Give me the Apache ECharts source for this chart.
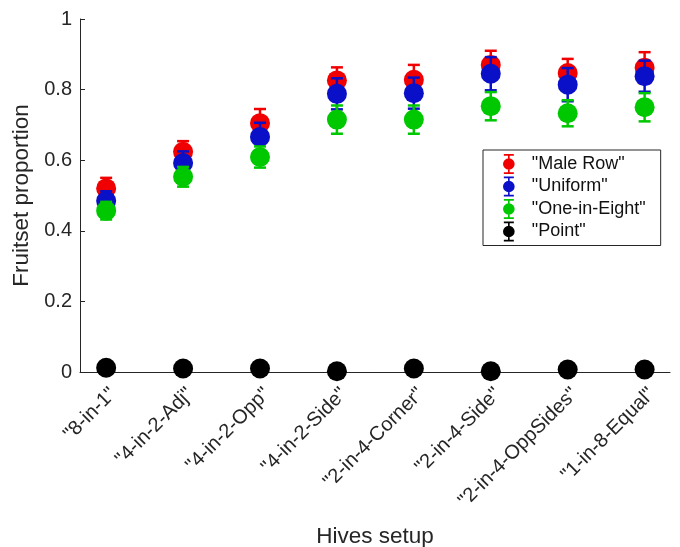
<!DOCTYPE html>
<html>
<head>
<meta charset="utf-8">
<script src="https://cdn.jsdelivr.net/npm/echarts@6/dist/echarts.min.js"></script>
<style>
  html, body { margin: 0; padding: 0; background: #fff; }
  #chart { width: 680px; height: 547px; }
</style>
</head>
<body>
<div id="chart"></div>
<script>
// ---- data ----
const categories = ['"8-in-1"', '"4-in-2-Adj"', '"4-in-2-Opp"', '"4-in-2-Side"', '"2-in-4-Corner"', '"2-in-4-Side"', '"2-in-4-OppSides"', '"1-in-8-Equal"'];
const seriesNames = ['"Male Row"', '"Uniform"', '"One-in-Eight"', '"Point"'];
const maleRow = [0.520, 0.624, 0.705, 0.826, 0.828, 0.870, 0.847, 0.862];
const maleRowErr = [0.030, 0.030, 0.040, 0.037, 0.042, 0.040, 0.040, 0.044];
const uniform = [0.485, 0.592, 0.666, 0.788, 0.790, 0.845, 0.814, 0.838];
const uniformErr = [0.027, 0.033, 0.040, 0.044, 0.044, 0.047, 0.047, 0.044];
const oneInEight = [0.457, 0.553, 0.609, 0.715, 0.715, 0.753, 0.733, 0.750];
const oneInEightErr = [0.025, 0.028, 0.030, 0.040, 0.040, 0.040, 0.037, 0.040];
const point = [0.012, 0.010, 0.010, 0.002, 0.010, 0.002, 0.007, 0.007];
const pointErr = [0, 0, 0, 0, 0, 0, 0, 0];
const yTicks = [0, 0.2, 0.4, 0.6, 0.8, 1];

const colors = ['#f00000', '#0a0fc8', '#00c800', '#000000'];
const FONT = 'Liberation Sans, Arial, Helvetica, sans-serif';

function toData(vals, errs) {
  return vals.map((v, i) => [i + 1, v, errs[i]]);
}

function renderItem(params, api) {
  const x = api.value(0), y = api.value(1), e = api.value(2);
  const c = api.coord([x, y]);
  const top = api.coord([x, y + e]);
  const bot = api.coord([x, y - e]);
  const color = api.visual('color');
  const children = [];
  if (e > 0) {
    const ls = { stroke: color, lineWidth: 2.5 };
    children.push({ type: 'line', shape: { x1: c[0], y1: top[1], x2: c[0], y2: bot[1] }, style: ls });
    children.push({ type: 'line', shape: { x1: c[0] - 6, y1: top[1], x2: c[0] + 6, y2: top[1] }, style: ls });
    children.push({ type: 'line', shape: { x1: c[0] - 6, y1: bot[1], x2: c[0] + 6, y2: bot[1] }, style: ls });
  }
  children.push({ type: 'circle', shape: { cx: c[0], cy: c[1], r: 10 }, style: { fill: color } });
  return { type: 'group', children: children };
}

const allData = [toData(maleRow, maleRowErr), toData(uniform, uniformErr), toData(oneInEight, oneInEightErr), toData(point, pointErr)];

const legendIcon = 'path://M4 0 L16 0 L16 2 L11 2 L11 22 L16 22 L16 24 L4 24 L4 22 L9 22 L9 2 L4 2 Z M3 12 A7 7 0 1 1 17 12 A7 7 0 1 1 3 12 Z';

const chart = echarts.init(document.getElementById('chart'), null, { renderer: 'canvas' });
chart.setOption({
  animation: false,
  backgroundColor: '#fff',
  grid: { left: 80, right: 10, top: 19, bottom: 175, containLabel: false, outerBoundsMode: 'none' },
  xAxis: {
    type: 'value',
    min: 0.66,
    max: 8.33,
    name: 'Hives setup',
    nameLocation: 'middle',
    nameGap: 153,
    nameMoveOverlap: false,
    nameTextStyle: { fontSize: 22.5, color: '#262626', fontFamily: FONT },
    axisLine: { show: true, lineStyle: { color: '#262626', width: 1 } },
    axisTick: { show: true, inside: true, length: 5, customValues: [1, 2, 3, 4, 5, 6, 7, 8], lineStyle: { color: '#262626' } },
    axisLabel: {
      customValues: [1, 2, 3, 4, 5, 6, 7, 8],
      formatter: v => categories[Math.round(v) - 1],
      rotate: 45,
      margin: 12,
      verticalAlign: 'top',
      fontSize: 20,
      color: '#262626',
      fontFamily: FONT
    },
    splitLine: { show: false }
  },
  yAxis: {
    type: 'value',
    min: 0,
    max: 1,
    interval: 0.2,
    name: 'Fruitset proportion',
    nameLocation: 'middle',
    nameGap: 45,
    nameTextStyle: { fontSize: 22.5, color: '#262626', fontFamily: FONT },
    axisLine: { show: true, lineStyle: { color: '#262626', width: 1 } },
    axisTick: { show: true, inside: true, length: 5, lineStyle: { color: '#262626' } },
    axisLabel: {
      customValues: yTicks,
      formatter: v => String(v),
      margin: 8,
      fontSize: 20,
      color: '#262626',
      fontFamily: FONT
    },
    splitLine: { show: false }
  },
  legend: {
    orient: 'vertical',
    left: 483,
    top: 150,
    padding: [4, 15, 4, 20],
    borderColor: '#262626',
    borderWidth: 1,
    itemWidth: 14,
    itemHeight: 20,
    itemGap: 2.5,
    textStyle: { fontSize: 18, color: '#111', fontFamily: FONT, padding: [0, 0, 0, 11] },
    data: seriesNames.map((n, i) => ({ name: n, icon: legendIcon, itemStyle: { color: colors[i] } })),
    selectedMode: false
  },
  series: seriesNames.map((n, i) => ({
    name: n,
    type: 'custom',
    color: colors[i],
    itemStyle: { color: colors[i] },
    renderItem: renderItem,
    encode: { x: 0, y: 1 },
    data: allData[i],
    z: 2 + i
  }))
});
</script>
</body>
</html>
